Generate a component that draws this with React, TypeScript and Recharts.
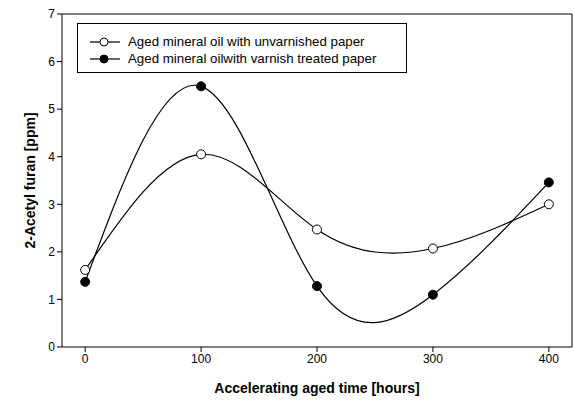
import React from 'react';
import {
    LineChart,
    Line,
    XAxis,
    YAxis,
    ReferenceLine,
} from 'recharts';

const hours = [0, 100, 200, 300, 400];
const unvarnished = [1.62, 4.05, 2.47, 2.07, 3.0];
const varnished = [1.37, 5.48, 1.28, 1.1, 3.46];
const xTicks = [0, 100, 200, 300, 400];
const yTicks = [0, 1, 2, 3, 4, 5, 6, 7];

const seriesNames = {
    unvarnished: 'Aged mineral oil with unvarnished paper',
    varnished: 'Aged mineral oilwith varnish treated paper',
};

const data = hours.map((h, i) => ({
    hours: h,
    unvarnished: unvarnished[i],
    varnished: varnished[i],
}));

const font = 'Arial, "Liberation Sans", Helvetica, sans-serif';

// legend drawn as an overlay so it doesn't push the plot area down
const LegendBox = () => {
    const rows = [
        { name: seriesNames.unvarnished, fill: '#fff' },
        { name: seriesNames.varnished, fill: '#000' },
    ];
    return (
        <div style={{ position: 'absolute', left: 77, top: 23, border: '1px solid #000', width: 330, height: 50, boxSizing: 'border-box', padding: '9px 0 0 12px', fontFamily: font, fontSize: 13.3, color: '#000', background: '#fff' }}>
            {rows.map((r) => (
                <div key={r.name} style={{ display: 'flex', alignItems: 'center', height: 17 }}>
                    <svg width={30} height={12} style={{ marginRight: 8 }}>
                        <line x1={0} y1={6} x2={30} y2={6} stroke="#000" strokeWidth={1.2} />
                        <circle cx={14} cy={6} r={4} fill={r.fill} stroke="#000" strokeWidth={1} />
                    </svg>
                    <span>{r.name}</span>
                </div>
            ))}
        </div>
    );
};

export default function App() {
    return (
        <div style={{ position: 'absolute', left: 0, top: 0, width: 574, height: 405, background: '#fff' }}>
            <LineChart
                width={574}
                height={405}
                data={data}
                margin={{ top: 14, right: 2, left: 0, bottom: 0 }}
            >
                <XAxis
                    dataKey="hours"
                    type="number"
                    domain={[-20, 420]}
                    ticks={xTicks}
                    height={58}
                    stroke="#000"
                    tickSize={5}
                    tick={{ fill: '#000', fontSize: 12, fontFamily: font }}
                    label={{ value: 'Accelerating aged time [hours]', position: 'insideBottom', offset: 12, fill: '#000', fontSize: 14, fontWeight: 'bold', fontFamily: font }}
                />
                <YAxis
                    type="number"
                    domain={[0, 7]}
                    ticks={yTicks}
                    width={62}
                    stroke="#000"
                    tickSize={5}
                    tick={{ fill: '#000', fontSize: 12, fontFamily: font }}
                    label={{ value: '2-Acetyl furan [ppm]', angle: -90, position: 'insideLeft', offset: 30, style: { textAnchor: 'middle' }, fill: '#000', fontSize: 14, fontWeight: 'bold', fontFamily: font }}
                />
                <ReferenceLine y={7} stroke="#000" />
                <ReferenceLine x={420} stroke="#000" />
                <Line
                    type="natural"
                    dataKey="unvarnished"
                    name={seriesNames.unvarnished}
                    stroke="#000"
                    strokeWidth={1.2}
                    dot={{ r: 4.5, fill: '#fff', stroke: '#000', strokeWidth: 1 }}
                    isAnimationActive={false}
                />
                <Line
                    type="natural"
                    dataKey="varnished"
                    name={seriesNames.varnished}
                    stroke="#000"
                    strokeWidth={1.2}
                    dot={{ r: 4.5, fill: '#000', stroke: '#000', strokeWidth: 1 }}
                    isAnimationActive={false}
                />
            </LineChart>
            <LegendBox />
        </div>
    );
}
